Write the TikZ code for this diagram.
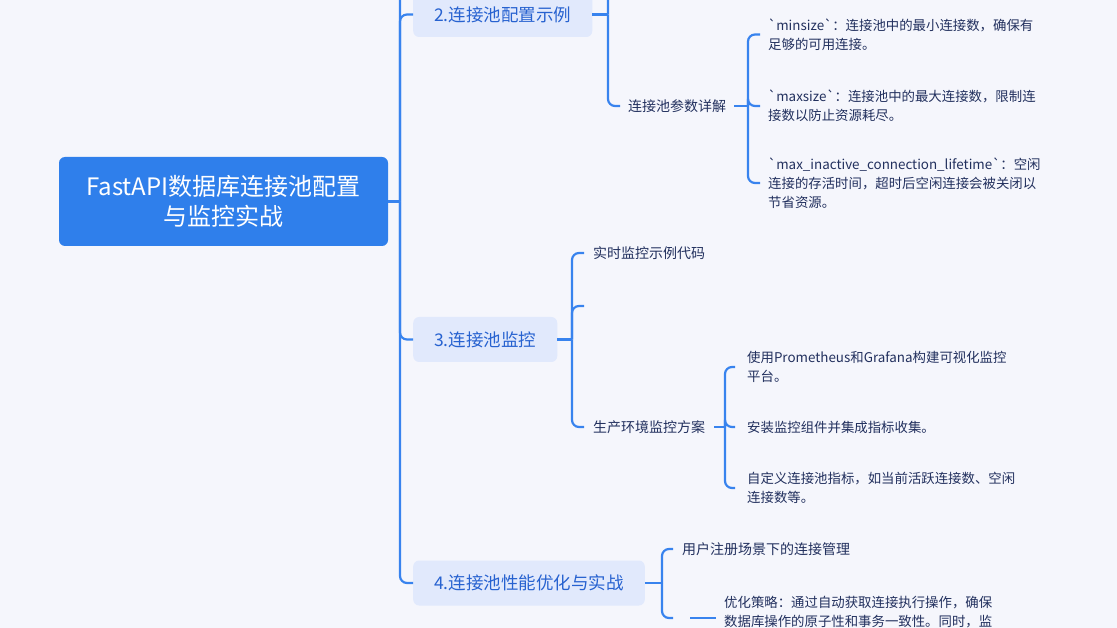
\documentclass[tikz,border=0pt]{standalone}
\usepackage{fontspec}
\newfontfamily\cjk{Noto Sans CJK SC}
\definecolor{bgc}{HTML}{F5F6FC}
\definecolor{linec}{HTML}{3883EE}
\definecolor{rootc}{HTML}{2F7FEB}
\definecolor{mainc}{HTML}{E1E9FC}
\definecolor{maintext}{HTML}{2762D0}
\definecolor{subtext}{HTML}{22305E}
\begin{document}
\begin{tikzpicture}[x=1pt,y=-1pt,
  link/.style={draw=linec, line width=2.2pt, rounded corners=7pt},
  rootbox/.style={fill=rootc, rounded corners=6pt, text=white, font=\cjk\fontsize{24}{30}\selectfont, align=center, minimum width=329pt, minimum height=89pt, inner sep=0pt},
  mainbox/.style={fill=mainc, rounded corners=6pt, text=maintext, font=\cjk\fontsize{17.5}{21}\selectfont, minimum height=45pt, inner xsep=21pt, inner ysep=0pt, anchor=west},
  subnode/.style={text=subtext, font=\cjk\fontsize{14}{18}\selectfont, inner xsep=9pt, inner ysep=2pt, anchor=west},
  leaf/.style={text=subtext, font=\cjk\fontsize{13.4}{19}\selectfont, align=left, inner xsep=8pt, inner ysep=0pt, anchor=west}]
\useasboundingbox (0,0) rectangle (1117,628);
\clip (0,0) rectangle (1117,628);
\fill[bgc] (0,0) rectangle (1117,628);

% root
\node[rootbox] (root) at (223.5,201.5) {FastAPI数据库连接池配置\\与监控实战};
\coordinate (tj) at (400,201.5);
\coordinate (b1) at (413,-120);

% level 1
\node[mainbox] (b2) at (413,14.5) {2.连接池配置示例};
\node[mainbox] (b3) at (413,339.5) {3.连接池监控};
\node[mainbox] (b4) at (413,583) {4.连接池性能优化与实战};

\draw[link] (root.east) -- (tj);
\draw[link] (tj) |- (b1);
\draw[link] (tj) |- (b2.west);
\draw[link] (tj) |- (b3.west);
\draw[link] (tj) |- (b4.west);

% branch 2
\coordinate (j2) at (608,14.5);
\coordinate (c20) at (620,-100);
\node[subnode, inner xsep=8pt] (c21) at (620,106) {连接池参数详解};
\draw[link] (b2.east) -- (j2);
\draw[link] (j2) |- (c20);
\draw[link] (j2) |- (c21.west);

\coordinate (j21) at (748,106);
\node[leaf] (l1) at (760,34.5) {`minsize`：连接池中的最小连接数，确保有\\足够的可用连接。};
\node[leaf] (l2) at (760,106) {`maxsize`：连接池中的最大连接数，限制连\\接数以防止资源耗尽。};
\node[leaf] (l3) at (760,183) {`max\_inactive\_connection\_lifetime`：空闲\\连接的存活时间，超时后空闲连接会被关闭以\\节省资源。};
\draw[link] (c21.east) -- (j21);
\draw[link] (j21) |- (l1.west);
\draw[link] (j21) |- (l2.west);
\draw[link] (j21) |- (l3.west);

% branch 3
\coordinate (j3) at (572,339.5);
\node[subnode] (c31) at (584,253) {实时监控示例代码};
\coordinate (c32) at (584,306);
\node[subnode] (c33) at (584,427) {生产环境监控方案};
\draw[link] (b3.east) -- (j3);
\draw[link] (j3) |- (c31.west);
\draw[link] (j3) |- (c32);
\draw[link] (j3) |- (c33.west);

\coordinate (j33) at (725,427);
\node[leaf, inner xsep=12pt] (l4) at (735,367) {使用Prometheus和Grafana构建可视化监控\\平台。};
\node[leaf, inner xsep=12pt] (l5) at (735,427) {安装监控组件并集成指标收集。};
\node[leaf, inner xsep=12pt] (l6) at (735,488) {自定义连接池指标，如当前活跃连接数、空闲\\连接数等。};
\draw[link] (c33.east) -- (j33);
\draw[link] (j33) |- (l4.west);
\draw[link] (j33) |- (l5.west);
\draw[link] (j33) |- (l6.west);

% branch 4
\coordinate (j4) at (662,583);
\node[subnode] (c41) at (673,549) {用户注册场景下的连接管理};
\node[anchor=west, inner sep=0pt, minimum width=17pt, minimum height=2pt] (c42) at (673,618) {};
\node[leaf, anchor=north west] (l7) at (716,596) {优化策略：通过自动获取连接执行操作，确保\\数据库操作的原子性和事务一致性。同时，监};
\draw[link] (b4.east) -- (j4);
\draw[link] (j4) |- (c41.west);
\draw[link] (j4) |- (c42.west);
\draw[link] (c42.east) -- (l7.west |- c42.east);
\end{tikzpicture}
\end{document}
